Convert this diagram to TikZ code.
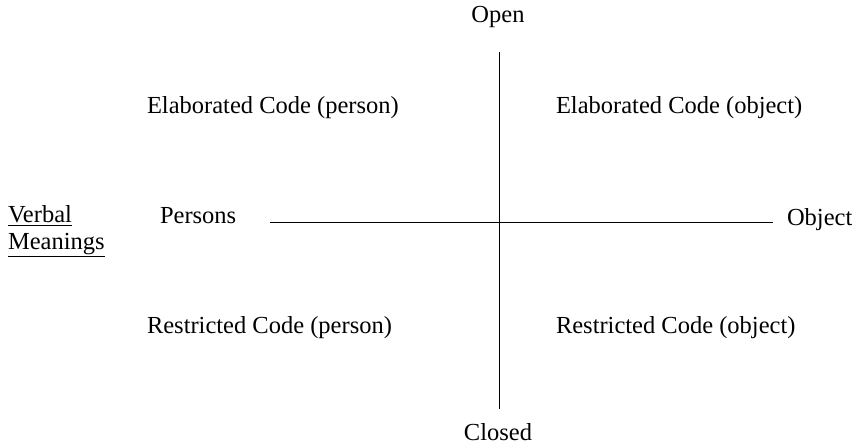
\documentclass[tikz,border=0pt]{standalone}
\usepackage{fontspec}
\setmainfont{Liberation Serif}
\begin{document}
\begin{tikzpicture}[x=1bp,y=-1bp,
  lbl/.style={inner sep=0pt,outer sep=0pt,font=\fontsize{24.5bp}{29bp}\selectfont},
  axis/.style={draw=black,line width=0.9bp}]
\useasboundingbox (0,0) rectangle (865,446);
% axis labels
\node[lbl,anchor=base] (open) at (498,23) {Open};
\node[lbl,anchor=base] (closed) at (498,440) {Closed};
\node[lbl,anchor=base west] (persons) at (160,224) {Persons};
\node[lbl,anchor=base west] (object) at (787,226) {Object};
\node[lbl,anchor=base west] (verbal) at (8,223) {\underline{Verbal}};
\node[lbl,anchor=base west] (meanings) at (8,250) {\underline{Meanings}};
% quadrant labels
\node[lbl,anchor=base west] (ep) at (147,114) {Elaborated Code (person)};
\node[lbl,anchor=base west] (eo) at (556,114) {Elaborated Code (object)};
\node[lbl,anchor=base west] (rp) at (147,334) {Restricted Code (person)};
\node[lbl,anchor=base west] (ro) at (556,334) {Restricted Code (object)};
% axes
\coordinate (vtop) at (499,52);
\coordinate (vbot) at (499,409);
\coordinate (hleft) at (270,222);
\coordinate (hright) at (773,222);
\draw[axis] (vtop) -- (vbot);
\draw[axis] (hleft) -- (hright);
\end{tikzpicture}
\end{document}
